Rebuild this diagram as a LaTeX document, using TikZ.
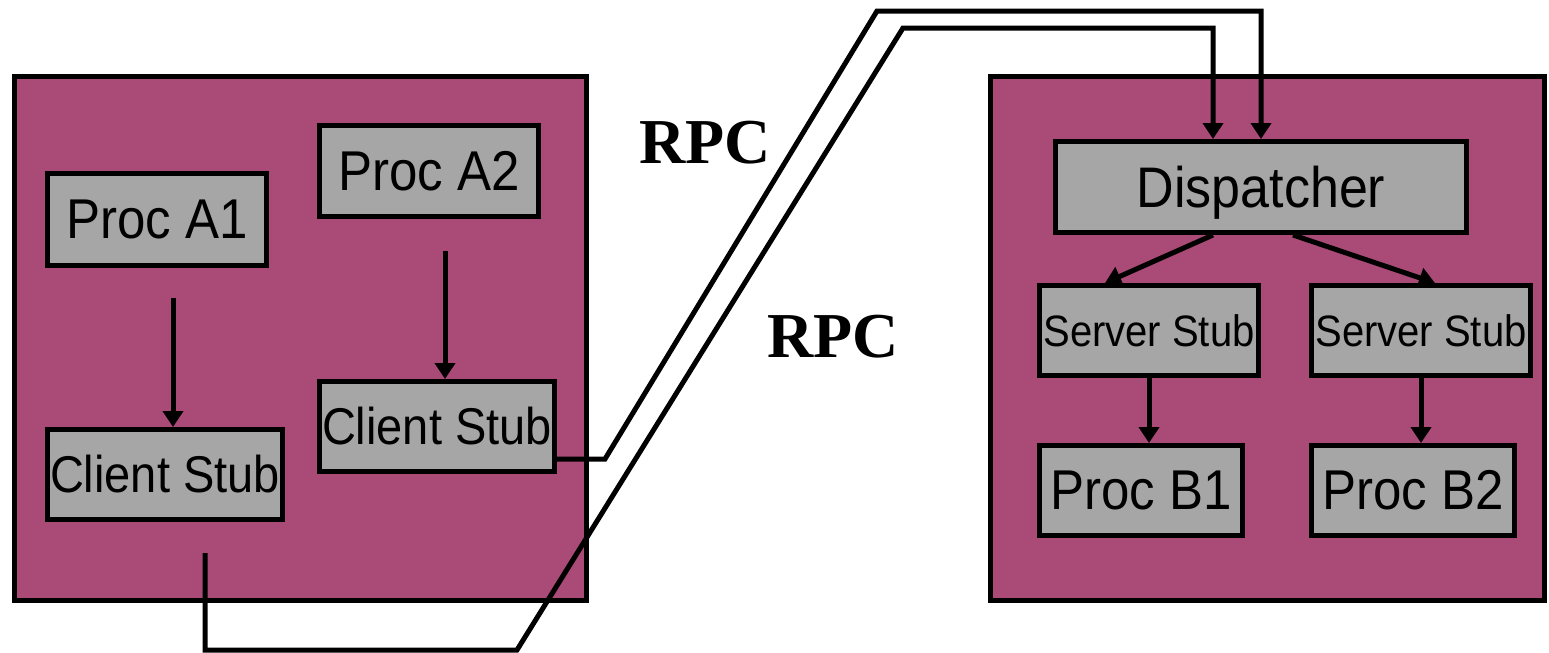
\documentclass[tikz,border=0pt]{standalone}
\usepackage{fontspec}
\setmainfont{Liberation Sans}
\newfontfamily\rpcfont{Liberation Serif}
\usetikzlibrary{arrows.meta}
\definecolor{hostfill}{RGB}{170,74,118}
\definecolor{boxfill}{RGB}{166,166,166}
% box labels are set a little taller than the plain face
\newcommand{\boxtext}[1]{\scalebox{1}[1.1]{#1}}
\begin{document}
\begin{tikzpicture}[x=0.5pt,y=-0.5pt,
  host/.style={draw=black,line width=2.5pt,fill=hostfill,inner sep=0pt},
  procbox/.style={draw=black,line width=2.5pt,fill=boxfill,inner sep=0pt,font=\fontsize{25.5}{28}\selectfont},
  stubbox/.style={procbox,font=\fontsize{23.5}{26}\selectfont},
  srvbox/.style={procbox,font=\fontsize{20}{23}\selectfont},
  flow/.style={line width=2.5pt,-{Triangle[width=10pt,length=8pt]}},
  rpclabel/.style={font=\rpcfont\bfseries\fontsize{32}{36}\selectfont,inner sep=0pt}]
\useasboundingbox (0,0) rectangle (1549,653);

% hosts
\node[host,minimum width=286pt,minimum height=262pt] (hostA) at (300.5,338.5) {};
\node[host,minimum width=277pt,minimum height=262pt] (hostB) at (1267.5,338.5) {};

% client side
\node[procbox,minimum width=109.5pt,minimum height=46pt] (pa1) at (157,219.5) {\boxtext{Proc A1}};
\node[procbox,minimum width=109.5pt,minimum height=45.5pt] (pa2) at (429,171) {\boxtext{Proc A2}};
\node[stubbox,minimum width=117.5pt,minimum height=45pt] (cs1) at (165,474.5) {\boxtext{Client Stub}};
\node[stubbox,minimum width=117.5pt,minimum height=45pt] (cs2) at (437,426.5) {\boxtext{Client Stub}};

% server side
\node[procbox,minimum width=205.5pt,minimum height=45.5pt,text depth=0pt,font=\fontsize{26}{29}\selectfont] (disp) at (1261,187) {\boxtext{Dispatcher}};
\node[srvbox,minimum width=109.5pt,minimum height=45pt] (ss1) at (1149,330.5) {\boxtext{Server Stub}};
\node[srvbox,minimum width=109.5pt,minimum height=45pt] (ss2) at (1421,330.5) {\boxtext{Server Stub}};
\node[procbox,minimum width=101.5pt,minimum height=45pt] (pb1) at (1141,490.5) {\boxtext{Proc B1}};
\node[procbox,minimum width=101.5pt,minimum height=45pt] (pb2) at (1413,490.5) {\boxtext{Proc B2}};

% labels
\node[rpclabel] (rpc1) at (705,143) {RPC};
\node[rpclabel] (rpc2) at (833,337) {RPC};

% local calls
\coordinate (a1top) at (173,298);
\coordinate (a2top) at (445,251);
\draw[flow] (a1top) -- (a1top |- cs1.north);
\draw[flow] (a2top) -- (a2top |- cs2.north);
\draw[flow] (ss1.south) -- (pb1.north -| ss1.south);
\draw[flow] (ss2.south) -- (pb2.north -| ss2.south);

% dispatcher fan-out
\coordinate (dl) at (1213,235);
\coordinate (dr) at (1293,235);
\coordinate (sl) at (1105,283);
\coordinate (sr) at (1435,283);
\draw[flow] (dl) -- (sl);
\draw[flow] (dr) -- (sr);

% remote call wires
\coordinate (w1a) at (605,459);
\coordinate (w1b) at (877,11);
\coordinate (w1c) at (1261,11);
\draw[flow] (cs2.east |- w1a) -- (w1a) -- (w1b) -- (w1c) -- (w1c |- disp.north);

\coordinate (w2s) at (205,553);
\coordinate (w2a) at (205,650);
\coordinate (w2b) at (517,650);
\coordinate (w2c) at (903,28);
\coordinate (w2d) at (1213,28);
\draw[flow] (w2s) -- (w2a) -- (w2b) -- (w2c) -- (w2d) -- (w2d |- disp.north);
\end{tikzpicture}
\end{document}
